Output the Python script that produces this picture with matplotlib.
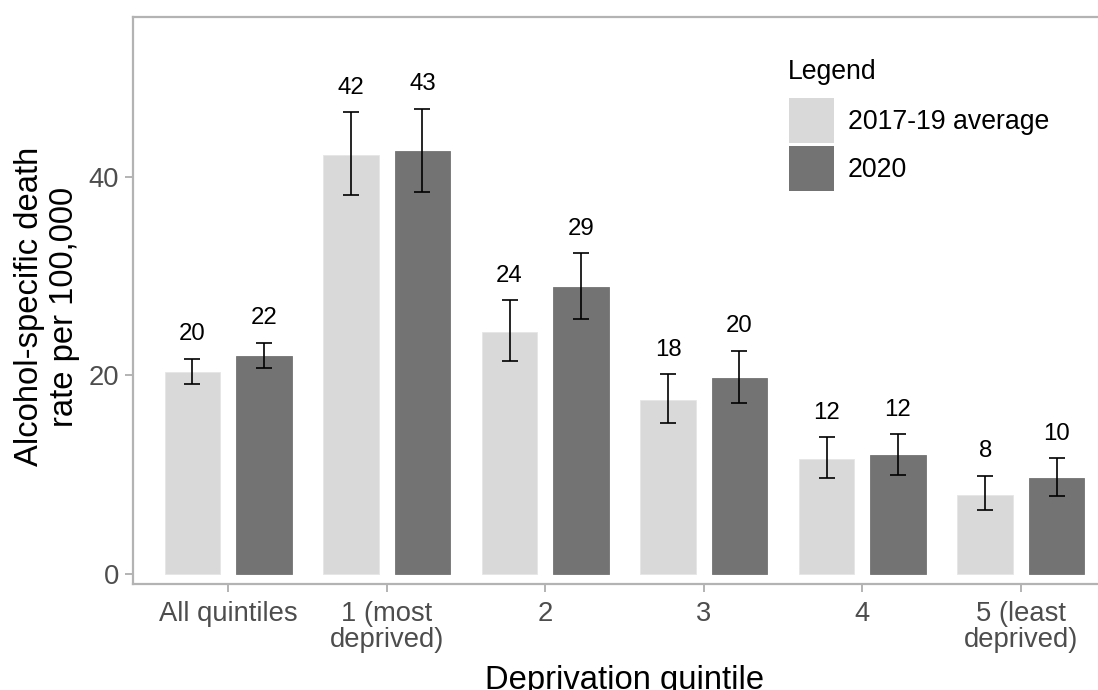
import matplotlib.pyplot as plt
from matplotlib.patches import Patch
import numpy as np

plt.rcParams['font.family'] = ['Liberation Sans', 'DejaVu Sans']

quintiles = ['All quintiles', '1 (most\ndeprived)', '2', '3', '4', '5 (least\ndeprived)']
series_names = ['2017-19 average', '2020']

# rates per 100,000 with 95% confidence limits
avg_rate = [20.4, 42.2, 24.4, 17.5, 11.6, 8.0]
avg_lower = [19.1, 38.2, 21.5, 15.2, 9.7, 6.45]
avg_upper = [21.7, 46.5, 27.6, 20.1, 13.8, 9.9]

rate_2020 = [22.0, 42.6, 28.9, 19.7, 12.0, 9.7]
lower_2020 = [20.8, 38.5, 25.7, 17.2, 10.0, 7.9]
upper_2020 = [23.3, 46.9, 32.3, 22.5, 14.1, 11.7]

light = '#d9d9d9'
dark = '#737373'
axis_grey = '#b3b3b3'
tick_text = '#4d4d4d'

fig = plt.figure(figsize=(10.98, 6.9), dpi=100)
ax = fig.add_axes([133 / 1098, 105.7 / 690, 983 / 1098, 567.6 / 690])

x = np.arange(len(quintiles))
width = 0.35
offset = 0.225

for vals, lo, hi, col, sign in [(avg_rate, avg_lower, avg_upper, light, -1),
                                 (rate_2020, lower_2020, upper_2020, dark, 1)]:
    xs = x + sign * offset
    vals = np.array(vals)
    lo = np.array(lo)
    hi = np.array(hi)
    ax.bar(xs, vals, width, color=col, edgecolor='#e6e6e6' if col == light else col,
           linewidth=0.6, zorder=2)
    ax.errorbar(xs, vals, yerr=[vals - lo, hi - vals], fmt='none', ecolor='black',
                elinewidth=1.2, capsize=6, capthick=1.2, zorder=3)
    for xi, v, h in zip(xs, vals, hi):
        ax.text(xi, h + 2.45, '%d' % round(v), ha='center', va='center',
                fontsize=17.3, color='black')

ax.set_xlim(-0.6, 5.6)
ax.set_ylim(-1.04, 56.15)
ax.set_xticks(x)
ax.set_xticklabels(quintiles, linespacing=1.0)
ax.set_yticks([0, 20, 40])
ax.tick_params(axis='both', length=6, width=1.4, color=axis_grey, labelsize=19.7,
               labelcolor=tick_text)
ax.tick_params(axis='x', pad=6)
ax.tick_params(axis='y', pad=4)

for s in ['left', 'bottom', 'top', 'right']:
    ax.spines[s].set_color(axis_grey)
    ax.spines[s].set_linewidth(1.6)

ax.set_xlabel('Deprivation quintile', fontsize=23.6)
ax.xaxis.set_label_coords(0.5, -0.142)
ax.set_ylabel('Alcohol-specific death\nrate per 100,000', fontsize=23.6, linespacing=1.15)
ax.yaxis.set_label_coords(-0.054, 0.489)

# legend: title placed on its own, keys below it
fig.text(788 / 1098, 1 - 72 / 690, 'Legend', fontsize=19.2, ha='left', va='center')
handles = [Patch(facecolor=light, edgecolor='none'), Patch(facecolor=dark, edgecolor='none')]
leg = ax.legend(handles, series_names, loc='upper left',
                bbox_to_anchor=(789 / 1098, 1 - 98 / 690), bbox_transform=fig.transFigure,
                frameon=False, fontsize=19.2, handlelength=1.69,
                handleheight=2.22, handletextpad=0.52, labelspacing=0.11,
                borderpad=0, borderaxespad=0)

fig.savefig('out.png', dpi=100)
